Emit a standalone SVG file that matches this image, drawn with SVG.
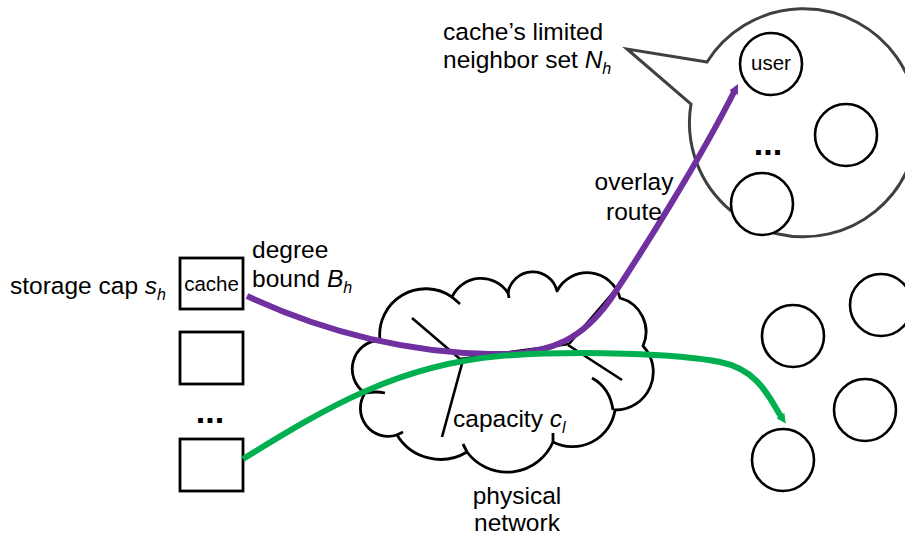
<svg xmlns="http://www.w3.org/2000/svg" width="905" height="535" viewBox="0 0 905 535">
  <style>
    text { font-family: "Liberation Sans", Arial, sans-serif; font-size: 24.5px; fill: #000; }
    .small { font-size: 20.5px; }
    .it { font-style: italic; }
    .sub { font-style: italic; font-size: 16px; }
    .dots { font-weight: bold; font-size: 34px; }
    .box { fill: #fff; stroke: #000; stroke-width: 2.8; }
    .node { fill: #fff; stroke: #000; stroke-width: 2.6; }
    .cloud { fill: #fff; stroke: #000; stroke-width: 2.8; stroke-linejoin: round; }
    .stub { fill: none; stroke: #000; stroke-width: 2.8; stroke-linecap: butt; }
    .link { stroke: #000; stroke-width: 2.6; }
    .bubble { fill: #fff; stroke: #404040; stroke-width: 3; stroke-linejoin: miter; }
    .route { fill: none; stroke-width: 6; stroke-linecap: butt; }
  </style>
  <defs>
    <marker id="head-purple" viewBox="0 0 10 10" refX="3" refY="5" markerWidth="2" markerHeight="1.6" orient="auto" markerUnits="strokeWidth">
      <path d="M0,0 L10,5 L0,10 z" fill="#7030A0"/>
    </marker>
    <marker id="head-green" viewBox="0 0 10 10" refX="3" refY="5" markerWidth="2" markerHeight="1.6" orient="auto" markerUnits="strokeWidth">
      <path d="M0,0 L10,5 L0,10 z" fill="#00B050"/>
    </marker>
  </defs>

  <!-- physical network cloud -->
  <g id="physical-network">
    <path class="cloud" d="M380,340 A46,46 0 0 1 452,297 A32,32 0 0 1 508,293 A25,25 0 0 1 557,291 A34,34 0 0 1 620,298 A35,35 0 0 1 643,346 A38,38 0 0 1 615,410 A43,43 0 0 1 553,442 A50,50 0 0 1 467,452 A51,51 0 0 1 397,435 A28,28 0 0 1 365,393 A29,29 0 0 1 380,340 Z"/>
    <path class="stub" d="M452,297 L460,304 M508,292 L509,298 M613,410 Q610,388 592,378 M553,442 L553,433 M467,452 L463,444 M397,435 L403,432 M366,393 Q376,391 385,393"/>
    <line class="link" x1="412" y1="318" x2="460" y2="359"/>
    <line class="link" x1="463" y1="360" x2="442" y2="437"/>
    <line class="link" x1="460" y1="359" x2="569" y2="344"/>
    <line class="link" x1="617" y1="288" x2="569" y2="344"/>
    <line class="link" x1="568" y1="345" x2="622" y2="380"/>
    <text x="453" y="427">capacity <tspan class="it">c</tspan><tspan class="sub" dy="6">l</tspan></text>
  </g>

  <!-- caches -->
  <g id="cache-1">
    <rect class="box" x="180" y="258" width="63" height="51"/>
    <text class="small" x="211.5" y="291" text-anchor="middle">cache</text>
  </g>
  <g id="cache-2">
    <rect class="box" x="180" y="332" width="63" height="52"/>
  </g>
  <text class="dots" x="210" y="423" text-anchor="middle">...</text>
  <g id="cache-3">
    <rect class="box" x="180" y="439" width="63" height="52"/>
  </g>

  <!-- neighbor set bubble -->
  <g id="neighbor-set">
    <path class="bubble" d="M707,62 L627,49 L691,104 A114,114 0 1 0 707,62 Z"/>
    <g id="user">
      <circle class="node" cx="771" cy="64" r="31"/>
      <text class="small" x="771" y="70" text-anchor="middle">user</text>
    </g>
    <circle id="neighbor-2" class="node" cx="846" cy="135" r="31"/>
    <circle id="neighbor-3" class="node" cx="762" cy="204" r="31"/>
    <text class="dots" x="768" y="155" text-anchor="middle">...</text>
  </g>

  <!-- other users -->
  <circle id="user-a" class="node" cx="793" cy="336" r="31"/>
  <circle id="user-b" class="node" cx="881" cy="305" r="31"/>
  <circle id="user-c" class="node" cx="865" cy="410" r="31"/>
  <circle id="user-d" class="node" cx="783" cy="460" r="31"/>

  <!-- routes -->
  <g id="connectors">
    <path class="route" stroke="#7030A0" marker-end="url(#head-purple)" d="M247,296 C320,330 400,352 490,354 C555,356 585,335 610,300 C640,255 700,160 735,90"/>
    <path class="route" stroke="#00B050" marker-end="url(#head-green)" d="M243,459 C330,405 400,365 500,356 C580,350 680,354 720,362 C760,370 770,400 782,418"/>
  </g>

  <!-- labels -->
  <text x="10" y="294">storage cap <tspan class="it">s</tspan><tspan class="sub" dy="6">h</tspan></text>
  <text x="252" y="258">degree</text>
  <text x="252" y="287">bound <tspan class="it">B</tspan><tspan class="sub" dy="6">h</tspan></text>
  <text x="443" y="40">cache’s limited</text>
  <text x="443" y="68">neighbor set <tspan class="it">N</tspan><tspan class="sub" dy="6">h</tspan></text>
  <text x="634" y="190" text-anchor="middle">overlay</text>
  <text x="634" y="220" text-anchor="middle">route</text>
  <text x="517" y="504" text-anchor="middle">physical</text>
  <text x="517" y="531" text-anchor="middle">network</text>
</svg>
